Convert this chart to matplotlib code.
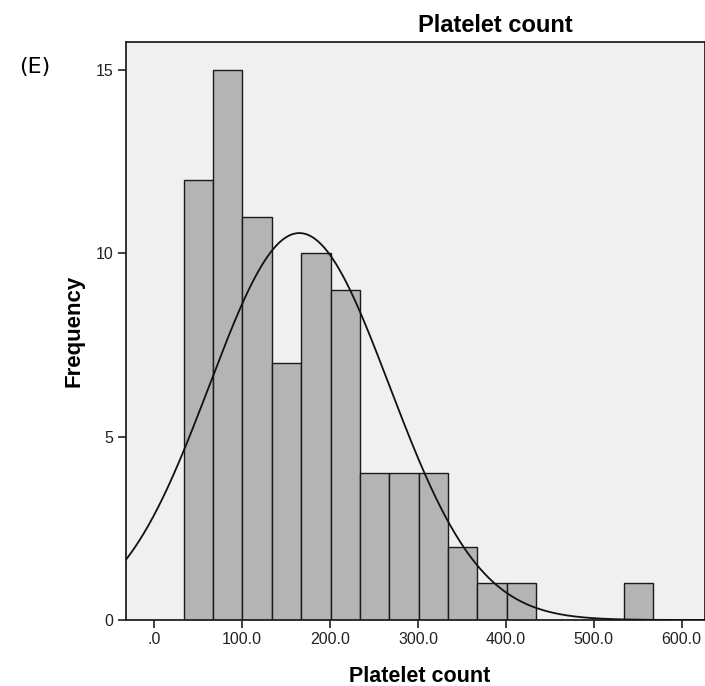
import numpy as np
import matplotlib
matplotlib.use("Agg")
import matplotlib.pyplot as plt

# Data
bin_start = 33.5
bin_width = 33.4
counts = [12, 15, 11, 7, 10, 9, 4, 4, 4, 2, 1, 1, 0, 0, 0, 1]
fit_mean = 165.0
fit_sd = 102.3
x_ticks = [0, 100, 200, 300, 400, 500, 600]
x_tick_labels = [".0", "100.0", "200.0", "300.0", "400.0", "500.0", "600.0"]
y_ticks = [0, 5, 10, 15]

plt.rcParams['font.family'] = ['Liberation Sans', 'DejaVu Sans']

fig = plt.figure(figsize=(7.05, 6.86), dpi=100)
ax = fig.add_axes([126/705, 1-620/686, 1-126/705, (620-42)/686])
ax.set_facecolor('#F0F0F0')

edges = bin_start + bin_width*np.arange(len(counts)+1)
ax.bar(edges[:-1], counts, width=bin_width, align='edge', color='#B4B4B4',
       edgecolor='#1a1a1a', linewidth=1.0, zorder=2)

n = sum(counts)
xs = np.linspace(-40, 640, 600)
ys = n*bin_width/(fit_sd*np.sqrt(2*np.pi))*np.exp(-0.5*((xs-fit_mean)/fit_sd)**2)
ax.plot(xs, ys, color='#111111', linewidth=1.3, zorder=3)

ax.set_xlim(-32.2, 626.5)
ax.set_ylim(0, 15.76)
ax.set_xticks(x_ticks)
ax.set_xticklabels(x_tick_labels)
ax.set_yticks(y_ticks)
ax.tick_params(axis='both', direction='out', length=6, width=1.2, color='#222222',
               labelsize=11.5, labelcolor='#222222', pad=3)
for s in ax.spines.values():
    s.set_color('#222222')
    s.set_linewidth(1.3)

ax.set_xlabel('Platelet count', fontsize=15.5, fontweight='bold')
ax.xaxis.label.set_va('baseline')
ax.xaxis.set_label_coords((420-126)/579, -(682-620)/578)
ax.set_ylabel('Frequency', fontsize=16, fontweight='bold')
ax.yaxis.label.set_va('center')
ax.yaxis.set_label_coords((73.5-126)/579, 0.5)

fig.text(495.5/705, 1-32/686, 'Platelet count', fontsize=17, ha='center', va='baseline',
         fontweight='bold')
fig.text(35/705, 1-67/686, '(E)', fontsize=16, ha='center', va='center',
         family=['DejaVu Sans'])

fig.savefig('out.png', dpi=100)
